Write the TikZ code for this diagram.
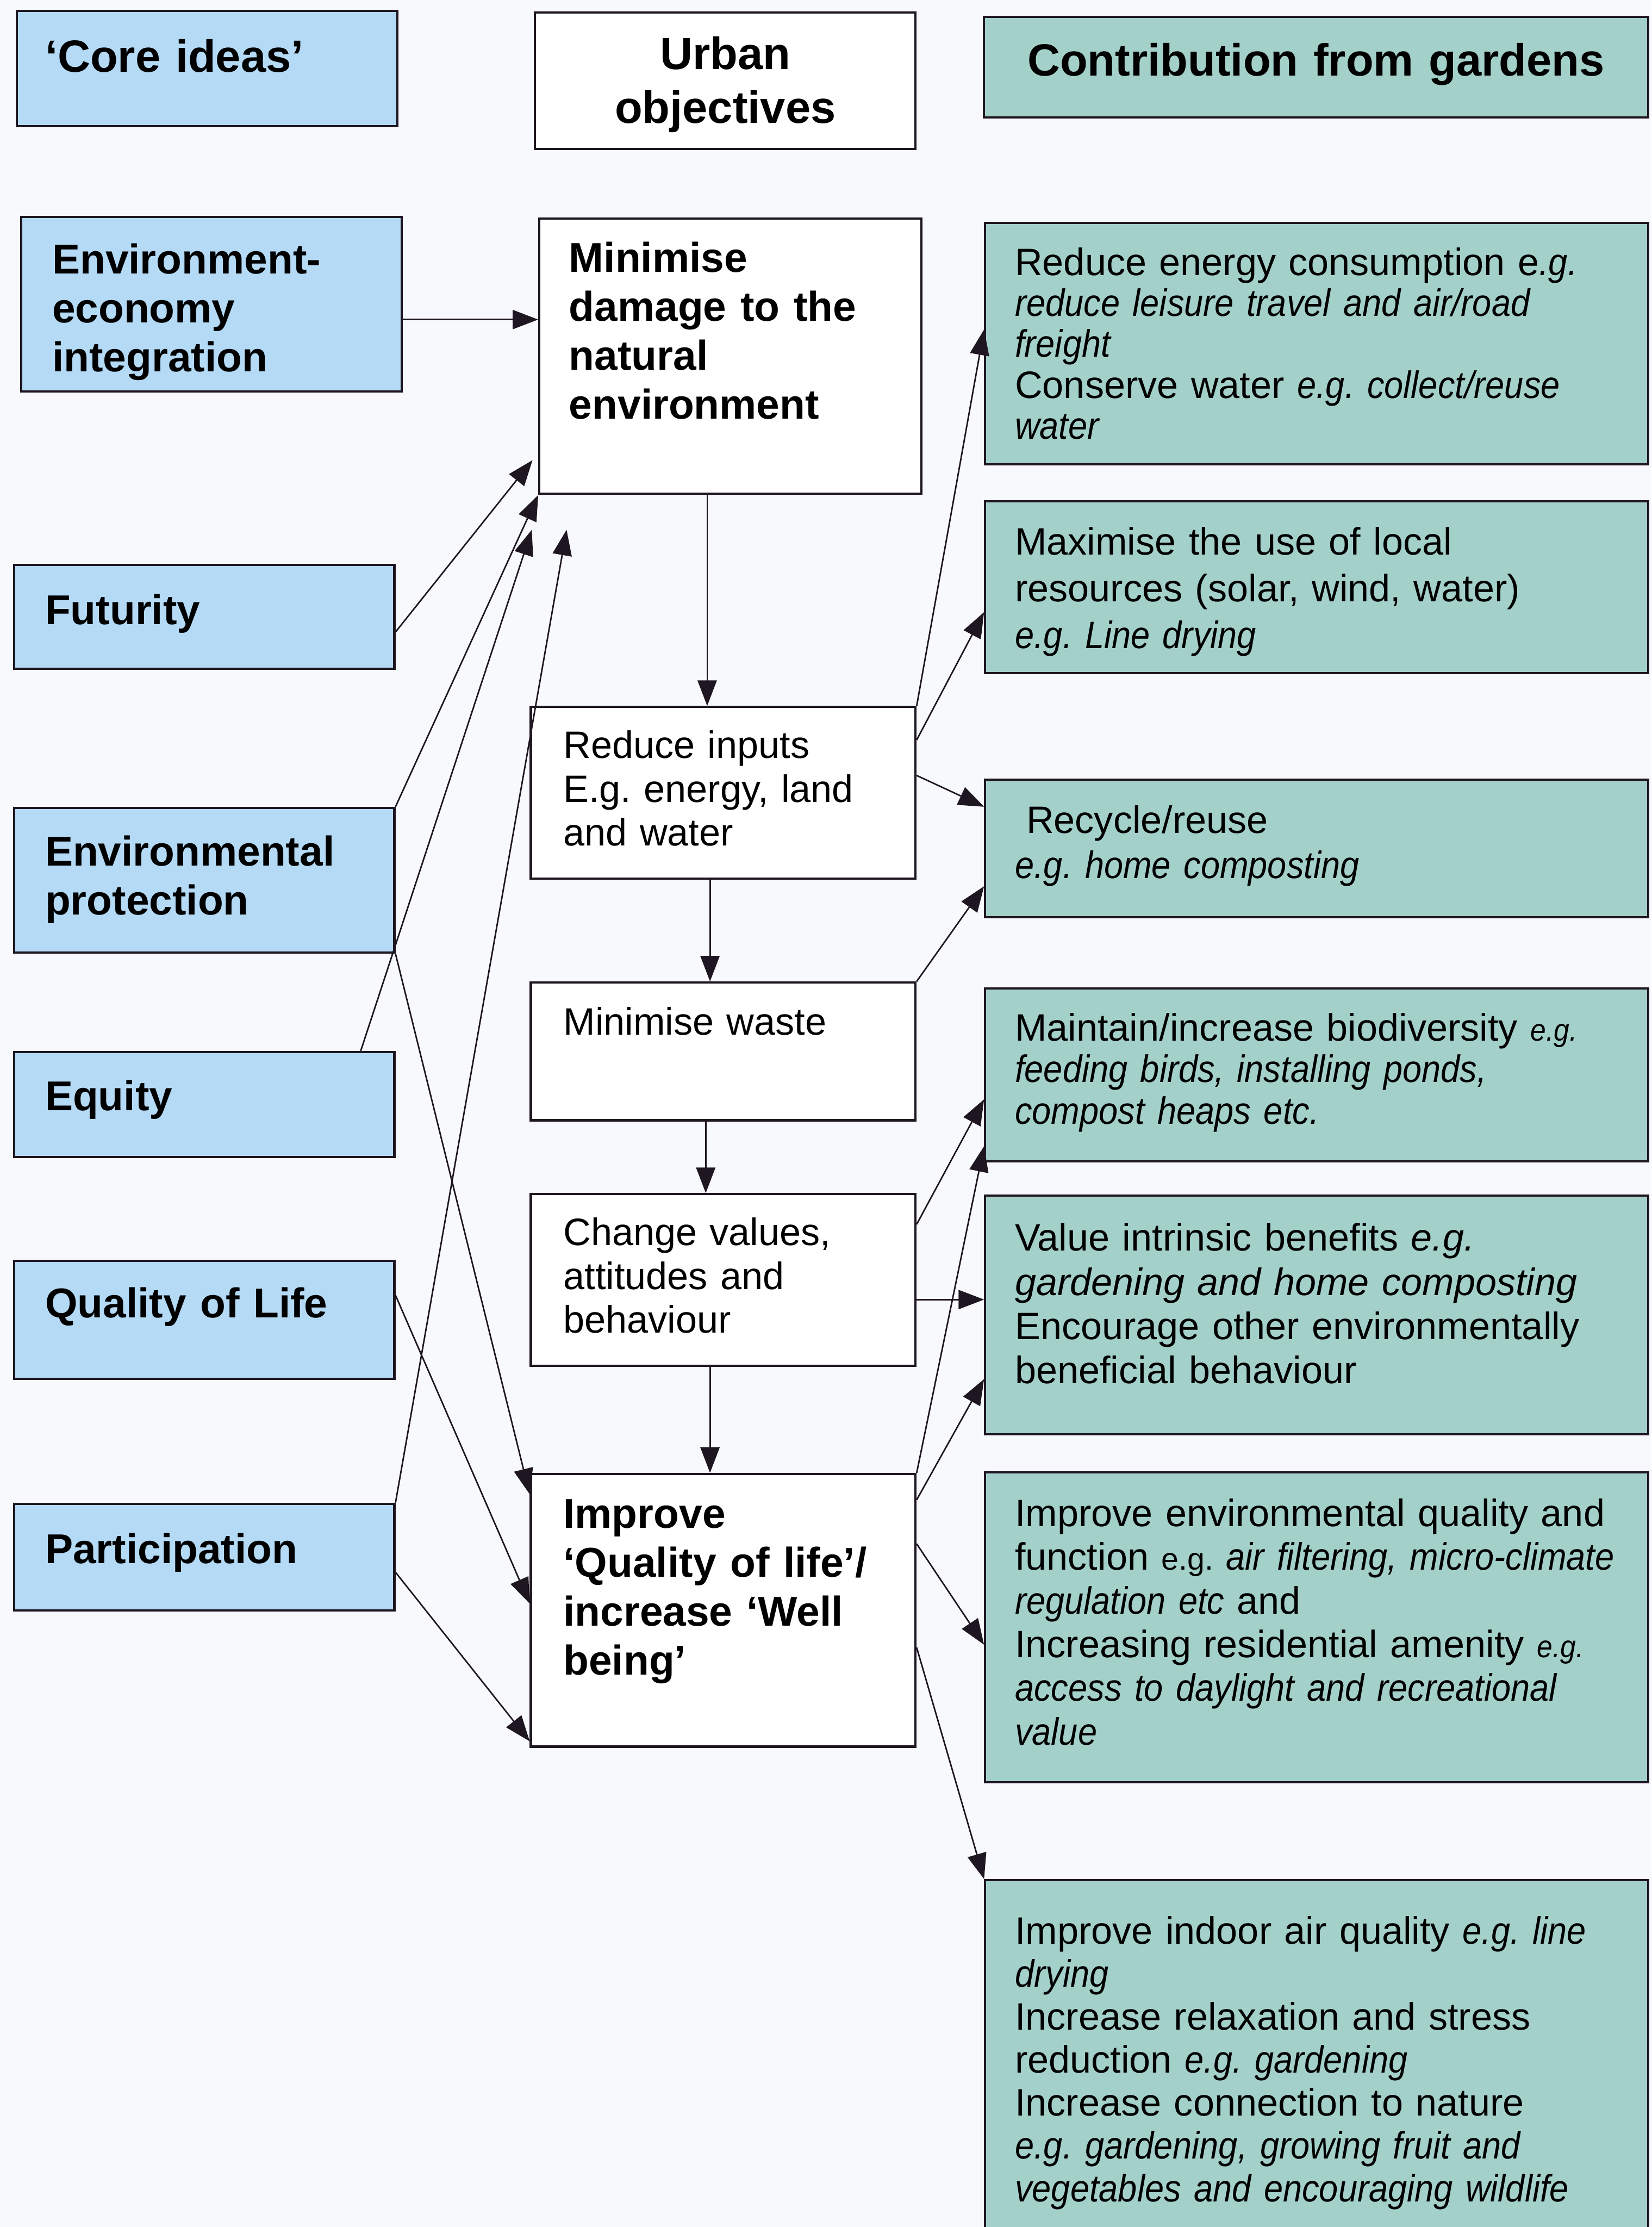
\documentclass[tikz,border=0pt]{standalone}
\usepackage{fontspec}
\setmainfont{Liberation Sans}[ItalicFeatures={FakeStretch=0.9}]
\newfontfamily\widefam{Liberation Sans}
\usepackage{tikz}
\usetikzlibrary{arrows.meta}

\definecolor{coreblue}{RGB}{180,218,245}
\definecolor{gardgreen}{RGB}{164,208,202}
\definecolor{linec}{RGB}{30,22,32}
\definecolor{paper}{RGB}{247,249,253}

\newcommand\headfont{\fontsize{18.1pt}{21.5pt}\selectfont\bfseries}
\newcommand\boldfont{\fontsize{16.7pt}{19.6pt}\selectfont\bfseries}
\newcommand\midfont{\fontsize{15.3pt}{17.6pt}\selectfont}
\newcommand\gardfont[1]{\fontsize{15.3pt}{#1}\selectfont}
\newcommand\smalleg{{\fontsize{12.5pt}{12.5pt}\selectfont e.g.}}
\newcommand\wideit[1]{{\widefam\itshape #1}}
\frenchspacing

\tikzset{
    box/.style={draw=linec, line width=0.9pt, anchor=north west, inner ysep=0pt, align=left},
    core/.style={box, fill=coreblue, font=\boldfont, inner xsep=0.44cm, text width=4.48cm},
    obj/.style={box, fill=white, inner xsep=0.46cm, text width=4.5cm},
    gard/.style={box, fill=gardgreen, inner xsep=0.42cm, text width=8.5cm},
    link/.style={draw=linec, line width=0.6pt, -{Triangle[length=0.36cm,width=0.27cm]}}
}

\begin{document}
\begin{tikzpicture}[x=0.02cm, y=-0.02cm]
    \useasboundingbox (0,0) rectangle (1163,1568);
    \fill[paper] (0,0) rectangle (1163,1568);

    % column heads
    \node[core, font=\headfont, inner xsep=0.40cm, text width=4.56cm,
        text height=0.86cm, text depth=0.76cm] (core) at (11,7) {‘Core ideas’};
    \node[obj, font=\headfont, align=center, inner xsep=0.44cm, text width=4.48cm,
        text height=0.80cm, text depth=1.12cm] (urb) at (376,8) {Urban\\objectives};
    \node[gard, font=\headfont, align=center, inner xsep=0.40cm, text width=8.56cm,
        text height=0.83cm, text depth=0.59cm] (cont) at (692,11) {Contribution from gardens};

    % core ideas
    \node[core, text height=0.80cm, text depth=1.66cm] (eei) at (14,152)
        {Environment-\\economy\\integration};
    \node[core, text height=0.84cm, text depth=0.62cm] (fut) at (9,397) {Futurity};
    \node[core, text height=0.82cm, text depth=1.22cm] (envp) at (9,568)
        {Environmental\\protection};
    \node[core, text height=0.82cm, text depth=0.66cm] (equ) at (9,740) {Equity};
    \node[core, text height=0.80cm, text depth=0.86cm] (qol) at (9,887) {Quality of Life};
    \node[core, text height=0.84cm, text depth=0.66cm] (part) at (9,1058) {Participation};

    % urban objectives
    \node[obj, font=\boldfont, inner xsep=0.42cm, text width=4.54cm,
        text height=0.76cm, text depth=3.12cm] (mdam) at (379,153)
        {Minimise\\damage to the\\natural\\environment};
    \node[obj, font=\midfont, text height=0.72cm, text depth=1.70cm] (rin) at (373,497)
        {Reduce inputs\\E.g. energy, land\\and water};
    \node[obj, font=\midfont, text height=0.74cm, text depth=1.20cm] (mwas) at (373,691)
        {Minimise waste};
    \node[obj, font=\midfont, text height=0.72cm, text depth=1.70cm] (chv) at (373,840)
        {Change values,\\attitudes and\\behaviour};
    \node[obj, font=\boldfont, text height=0.76cm, text depth=3.08cm] (iqol) at (373,1037)
        {Improve\\‘Quality of life’/\\increase ‘Well\\being’};

    % contribution from gardens
    \node[gard, font=\gardfont{16.4pt}, text height=0.74cm, text depth=2.66cm] (ren) at (693,156)
        {Reduce energy consumption e\textit{.g.}\\
        \textit{reduce leisure travel and air/road}\\
        \textit{freight}\\
        Conserve water \textit{e.g. collect/reuse}\\
        \textit{water}};
    \node[gard, font=\gardfont{18.7pt}, text height=0.76cm, text depth=1.66cm] (mloc) at (693,352)
        {Maximise the use of local\\
        resources (solar, wind, water)\\
        \textit{e.g. Line drying}};
    \node[gard, font=\gardfont{18.1pt}, text height=0.76cm, text depth=1.18cm] (rec) at (693,548)
        {\hspace{0.16cm}Recycle/reuse\\
        \textit{e.g. home composting}};
    \node[gard, font=\gardfont{16.7pt}, text height=0.74cm, text depth=1.70cm] (bio) at (693,695)
        {Maintain/increase biodiversity \textit{\smalleg}\\
        \textit{feeding birds, installing ponds,}\\
        \textit{compost heaps etc.}};
    \node[gard, font=\gardfont{17.7pt}, text height=0.78cm, text depth=2.58cm] (vin) at (693,841)
        {Value intrinsic benefits \wideit{e.g.}\\
        \wideit{gardening and home composting}\\
        Encourage other environmentally\\
        beneficial behaviour};
    \node[gard, font=\gardfont{17.5pt}, text height=0.76cm, text depth=3.60cm] (ienv) at (693,1036)
        {Improve environmental quality and\\
        function \smalleg{} \textit{air filtering, micro-climate}\\
        \textit{regulation etc} and\\
        Increasing residential amenity \textit{\smalleg}\\
        \textit{access to daylight and recreational}\\
        \textit{value}};
    \node[gard, font=\gardfont{17.2pt}, text height=0.90cm, text depth=4.70cm] (iair) at (693,1323)
        {Improve indoor air quality \textit{e.g. line}\\
        \textit{drying}\\
        Increase relaxation and stress\\
        reduction \textit{e.g. gardening}\\
        Increase connection to nature\\
        \textit{e.g. gardening, growing fruit and}\\
        \textit{vegetables and encouraging wildlife}};

    % loose arrow ends under the first objective
    \coordinate (fut-end) at (375,324);
    \coordinate (equ-end) at (374.5,373);
    \coordinate (part-end) at (399,373);

    % core ideas to objectives
    \draw[link] (eei.east |- 0,225) -- (mdam.west |- 0,225);
    \draw[link] (fut.east |- 0,445) -- (fut-end);
    \draw[link] (envp.north east) -- (mdam.south west);
    \draw[link] (envp.south east) -- (iqol.west |- 0,1052);
    \draw[link] (254,0 |- equ.north) -- (equ-end);
    \draw[link] (qol.east |- 0,912) -- (iqol.west |- 0,1129);
    \draw[link] (part.east |- 0,1107) -- (iqol.west |- 0,1226);
    \draw[link] (part.north east) -- (part-end);

    % down the objectives
    \draw[link] (498,0 |- mdam.south) -- (498,0 |- rin.north);
    \draw[link] (500,0 |- rin.south) -- (500,0 |- mwas.north);
    \draw[link] (497,0 |- mwas.south) -- (497,0 |- chv.north);
    \draw[link] (500,0 |- chv.south) -- (500,0 |- iqol.north);

    % objectives to gardens
    \draw[link] (rin.north east) -- (ren.west |- 0,232);
    \draw[link] (rin.east |- 0,521) -- (mloc.west |- 0,431);
    \draw[link] (rin.east |- 0,546) -- (rec.west |- 0,568);
    \draw[link] (mwas.north east) -- (rec.west |- 0,624);
    \draw[link] (chv.east |- 0,862) -- (bio.west |- 0,774);
    \draw[link] (chv.east |- 0,915) -- (vin.west |- 0,915);
    \draw[link] (iqol.north east) -- (bio.west |- 0,807);
    \draw[link] (iqol.east |- 0,1056) -- (vin.west |- 0,971);
    \draw[link] (iqol.east |- 0,1087) -- (ienv.west |- 0,1158);
    \draw[link] (iqol.east |- 0,1160) -- (iair.north west);
\end{tikzpicture}
\end{document}
